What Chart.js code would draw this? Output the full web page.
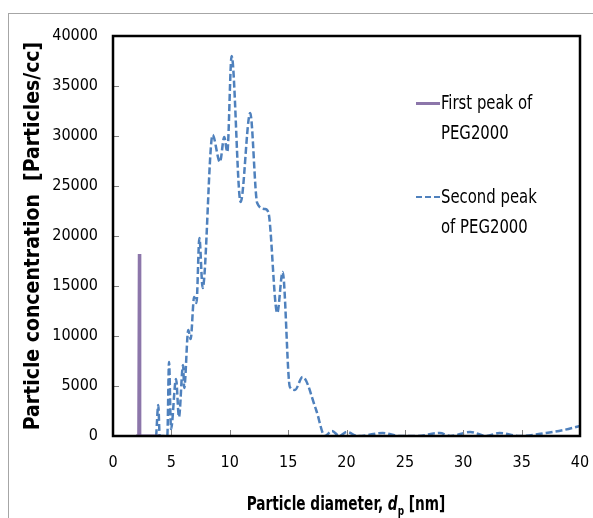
<!DOCTYPE html>
<html>
<head>
<meta charset="utf-8">
<script src="https://cdn.jsdelivr.net/npm/chart.js@4.4.1/dist/chart.umd.min.js"></script>
<style>
  html, body { margin: 0; padding: 0; background: #fff; }
  #wrap { position: relative; width: 593px; height: 518px; overflow: hidden; }
  #frame { position: absolute; left: 8px; top: 13px; width: 700px; height: 600px;
           border-left: 1px solid #a6a6a6; border-top: 1px solid #a6a6a6; }
  #graph { position: absolute; left: 0; top: 0; }
  .leg { position: absolute; left: 441px; font-family: 'DejaVu Sans Condensed', 'Liberation Sans', sans-serif;
         font-size: 19px; line-height: 30px; color: #000; white-space: nowrap;
         transform: scaleX(0.87); transform-origin: left top; }
  .swatch { position: absolute; left: 416px; width: 24px; height: 0; }
  #xTitle { position: absolute; left: 346px; top: 491px; white-space: nowrap;
            font-family: 'DejaVu Sans Condensed', 'Liberation Sans', sans-serif;
            font-size: 20px; font-weight: bold; color: #000;
            transform: translateX(-50%) scaleX(0.76); transform-origin: center top; }
  #xTitle sub { font-size: 13px; }
</style>
</head>
<body>
<div id="wrap">
  <div id="frame"></div>
  <canvas id="graph" width="593" height="518"></canvas>
  <div class="swatch" style="top:102px; border-top:3px solid #8c76aa;"></div>
  <div class="leg" style="top:87px;">First peak of<br>PEG2000</div>
  <div class="swatch" style="top:196px; border-top:2.5px dashed #4f81bd;"></div>
  <div class="leg" style="top:181px;">Second peak<br>of PEG2000</div>
  <div id="xTitle">Particle diameter, <i>d</i><sub>p</sub> [nm]</div>
</div>
<script>
// First peak of PEG2000 (purple, solid)
const firstPeakX = [1.97, 2.2, 2.25, 2.3, 4.03];
const firstPeakY = [0, 0, 18200, 0, 0];

// Second peak of PEG2000 (blue, dashed)
const secondPeakX = [3.7, 3.88, 4.0, 4.65, 4.8, 4.97, 5.4, 5.65, 6.0, 6.1, 6.45, 6.65, 6.95, 7.15, 7.4, 7.68,
    8.53, 9.16, 9.53, 9.79, 10.16, 10.93, 11.75, 12.35, 13.0, 13.3, 14.07, 14.53, 15.15, 15.58, 16.24,
    17.4, 18.15, 18.75, 19.4, 20.0, 21.0, 23.1, 24.6, 26.0, 28.0, 28.9, 30.6, 32.0, 33.1, 34.8, 37.1, 38.6, 40];
const secondPeakY = [0, 3100, 0, 0, 7400, 700, 5700, 1900, 7100, 4800, 10600, 9700, 13900, 13300, 19800, 14800,
    30100, 27400, 29900, 28400, 38000, 23400, 32300, 23300, 22700, 22400, 12300, 16400, 4900, 4600, 5900,
    2600, 0, 500, 0, 400, 0, 300, 0, 0, 300, 0, 400, 0, 300, 0, 300, 600, 1000];

const xTicks = [0, 5, 10, 15, 20, 25, 30, 35, 40];
const yTicks = [0, 5000, 10000, 15000, 20000, 25000, 30000, 35000, 40000];

const tickFont = { family: "'DejaVu Sans Condensed', 'Liberation Sans', sans-serif", size: 16 };

function toPoints(xs, ys) {
    return xs.map((x, i) => ({ x: x, y: ys[i] }));
}

// plot frame + small inside tick marks, drawn over the lines like Excel does
const frameAndTicks = {
    id: 'frameAndTicks',
    afterDatasetsDraw(chart) {
        const ctx = chart.ctx;
        const a = chart.chartArea;
        const xs = chart.scales.x;
        const ys = chart.scales.y;
        ctx.save();
        ctx.strokeStyle = '#808080';
        ctx.lineWidth = 1;
        yTicks.forEach(v => {
            const py = Math.round(ys.getPixelForValue(v)) + 0.5;
            ctx.beginPath();
            ctx.moveTo(a.left, py);
            ctx.lineTo(a.left + 6, py);
            ctx.stroke();
        });
        xTicks.forEach(v => {
            const px = Math.round(xs.getPixelForValue(v)) + 0.5;
            ctx.beginPath();
            ctx.moveTo(px, a.bottom);
            ctx.lineTo(px, a.bottom - 6);
            ctx.stroke();
        });
        ctx.strokeStyle = '#000';
        ctx.lineWidth = 2.5;
        ctx.strokeRect(a.left, a.top, a.right - a.left, a.bottom - a.top);
        ctx.restore();
    }
};

const ctx = document.getElementById('graph').getContext('2d');
new Chart(ctx, {
    type: 'scatter',
    data: {
        datasets: [{
            label: 'First peak of PEG2000',
            data: toPoints(firstPeakX, firstPeakY),
            showLine: true,
            borderColor: '#8c76aa',
            borderWidth: 3,
            pointRadius: 0,
            tension: 0
        }, {
            label: 'Second peak of PEG2000',
            data: toPoints(secondPeakX, secondPeakY),
            showLine: true,
            borderColor: '#4f81bd',
            borderWidth: 2.5,
            borderDash: [7, 3],
            pointRadius: 0,
            cubicInterpolationMode: 'monotone'
        }]
    },
    options: {
        responsive: false,
        animation: false,
        layout: { padding: { left: 20, top: 36, right: 0, bottom: 0 } },
        plugins: {
            legend: { display: false },
            tooltip: { enabled: false }
        },
        scales: {
            x: {
                type: 'linear',
                min: 0,
                max: 40,
                afterFit: s => { s.height = 82; s.paddingRight = 13; },
                afterBuildTicks: s => { s.ticks = xTicks.map(v => ({ value: v })); },
                grid: { display: false, drawTicks: false },
                border: { display: false },
                ticks: { color: '#000', font: tickFont, padding: 17, maxRotation: 0 }
            },
            y: {
                min: 0,
                max: 40000,
                afterFit: s => { s.width = 93; },
                afterBuildTicks: s => { s.ticks = yTicks.map(v => ({ value: v })); },
                grid: { display: false, drawTicks: false },
                border: { display: false },
                ticks: { color: '#000', font: tickFont, padding: 15, callback: v => String(v) },
                title: {
                    display: true,
                    text: 'Particle concentration  [Particles/cc]',
                    color: '#000',
                    font: { family: "'DejaVu Sans Condensed', 'Liberation Sans', sans-serif", size: 21, weight: 'bold' },
                    padding: { top: 1, bottom: 0 }
                }
            }
        }
    },
    plugins: [frameAndTicks]
});
</script>
</body>
</html>
